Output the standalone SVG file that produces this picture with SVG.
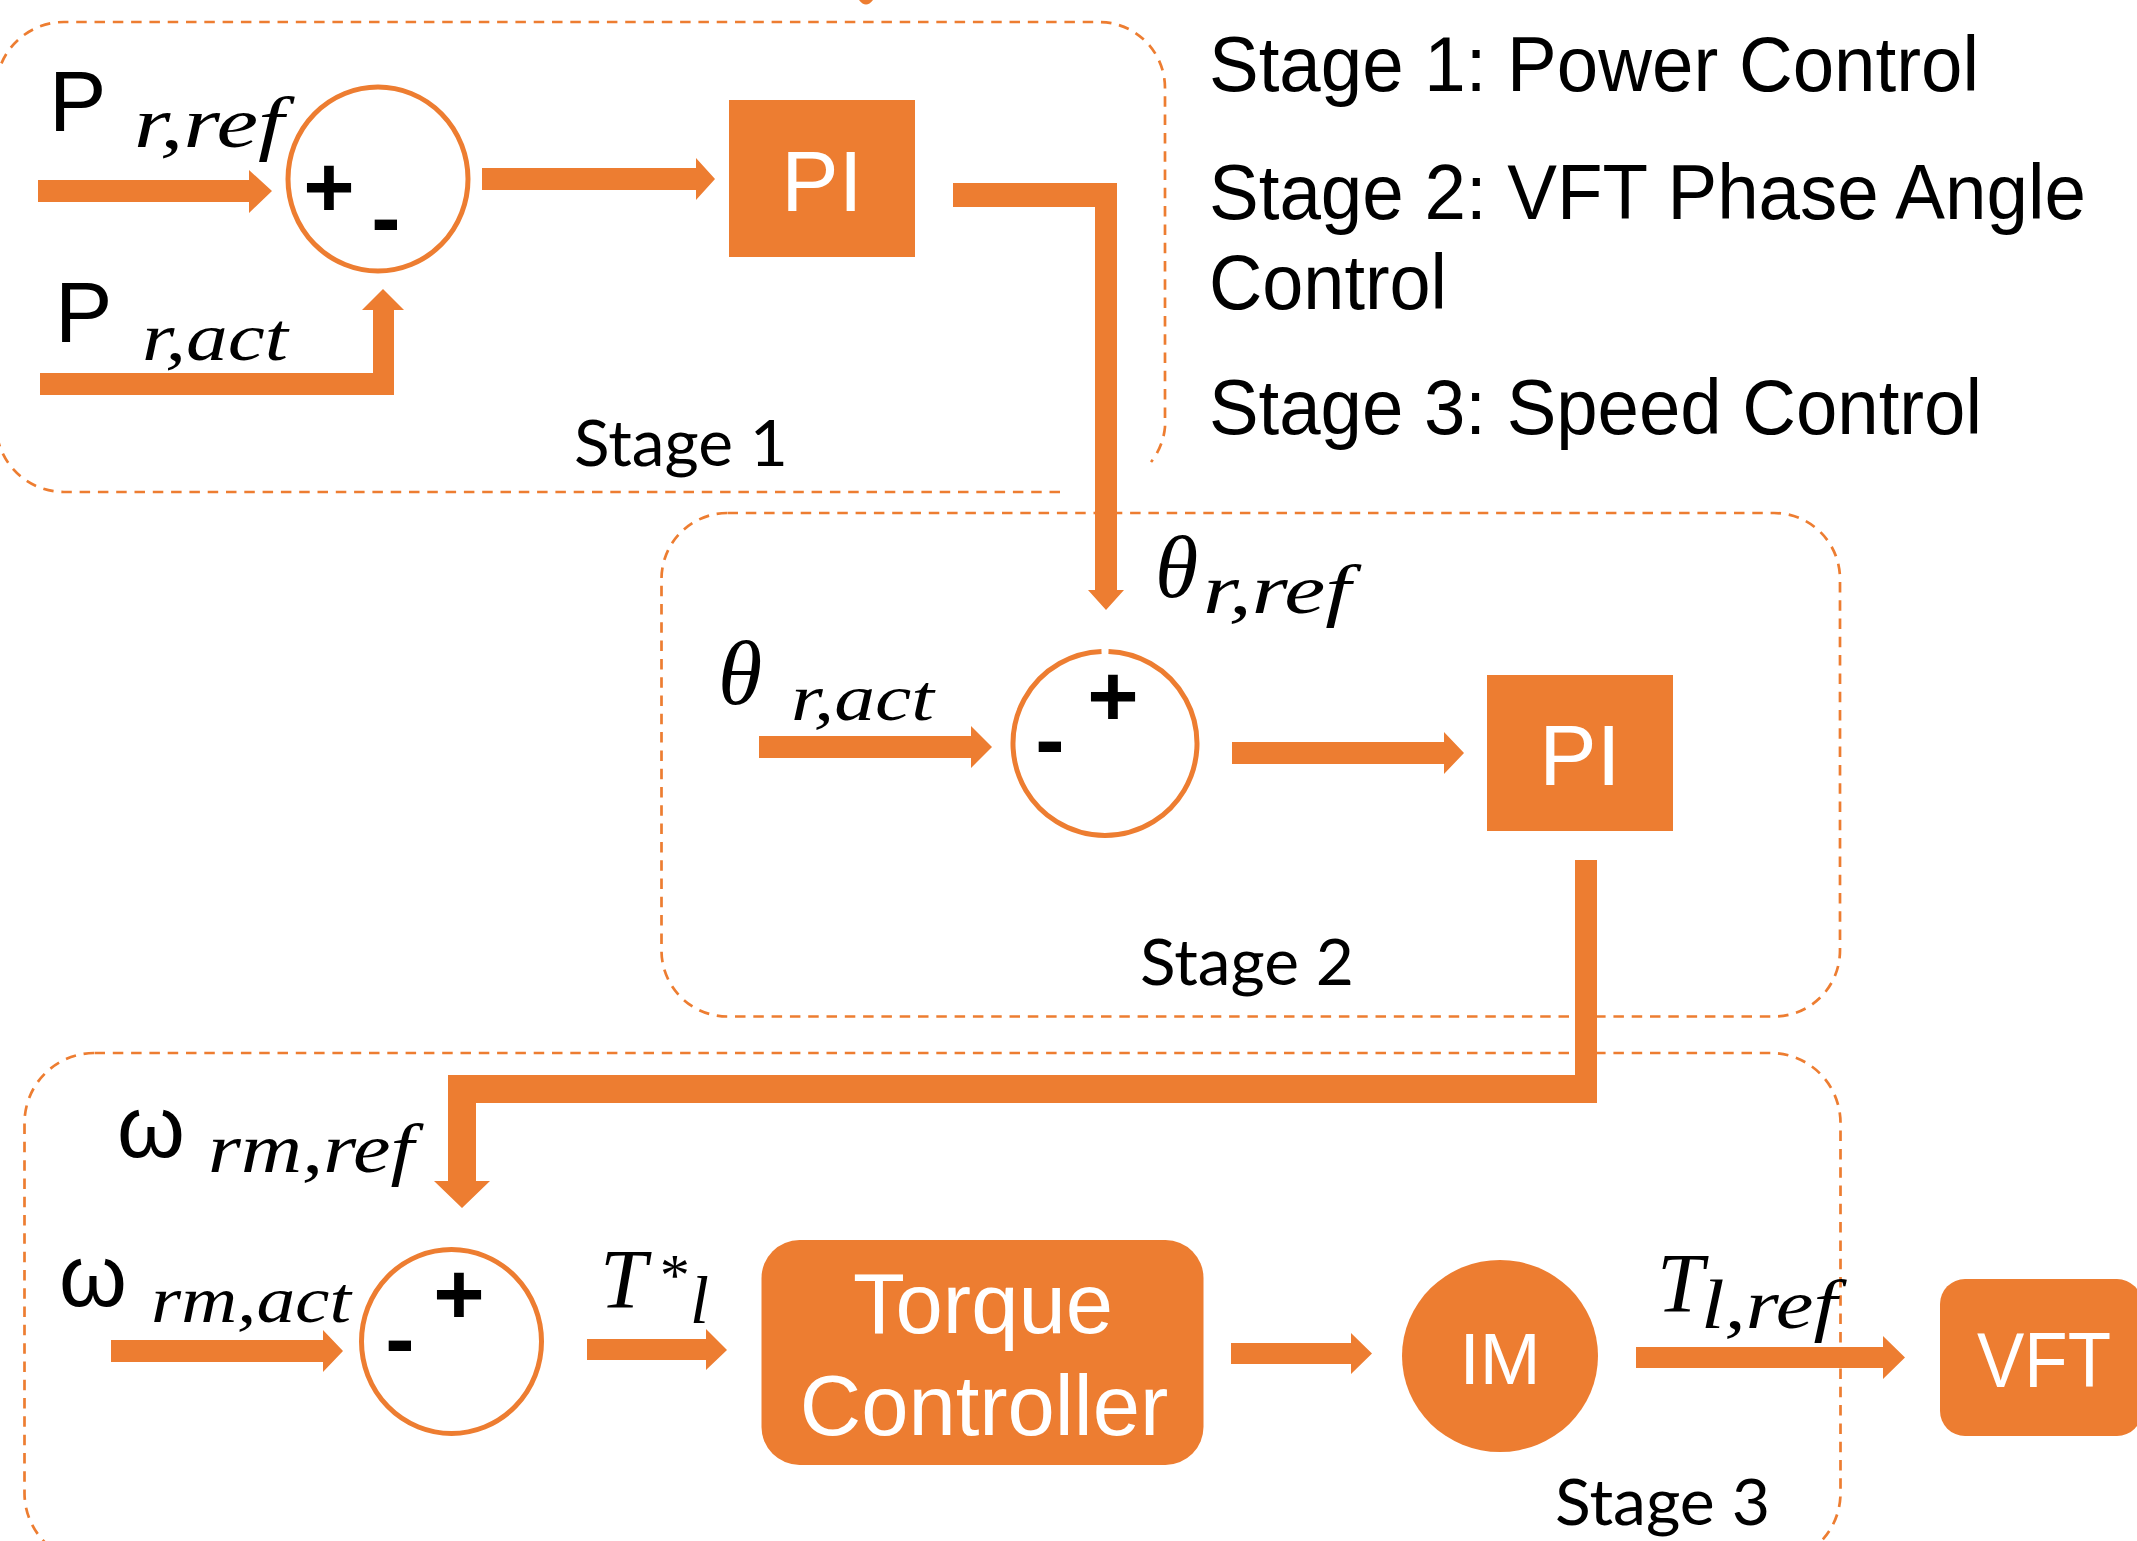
<svg xmlns="http://www.w3.org/2000/svg" width="2137" height="1541" viewBox="0 0 2137 1541">
<style>
.frame{fill:none;stroke:#ED7D31;stroke-width:2.7;stroke-dasharray:10.5 7.8}
.fill{fill:#ED7D31}
.sum{fill:#fff;stroke:#ED7D31;stroke-width:5}
.wt{fill:#fff;font-family:"Liberation Sans",Arial,sans-serif}
.bk{fill:#000;font-family:"Liberation Sans",Arial,sans-serif}
.mi{fill:#000;font-family:"Liberation Serif","Times New Roman",serif;font-style:italic}
.sg{fill:#000;font-family:"Liberation Sans",Arial,sans-serif;font-weight:bold;text-anchor:middle}
.st{fill:#000;font-family:Lato,"Open Sans",sans-serif}
</style>
<rect width="2137" height="1541" fill="#fff"/>
<path class="fill" d="M859 0 Q866 9 873 0 Z"/>
<g id="stage1">
<path class="frame" d="M1060 492 H64 A68 68 0 0 1 -4 424 V90 A68 68 0 0 1 64 22 H1099 A66 66 0 0 1 1165 88 V427 A66 66 0 0 1 1151 462"/>
<text class="st" x="574" y="466" font-size="64" textLength="214" lengthAdjust="spacingAndGlyphs">Stage 1</text>
</g>
<g id="stage2">
<rect class="frame" x="661.5" y="513" width="1178.5" height="503.5" rx="66" ry="66"/>
<text class="st" x="1140" y="985" font-size="64" textLength="214" lengthAdjust="spacingAndGlyphs">Stage 2</text>
</g>
<g id="stage3">
<rect class="frame" x="24.5" y="1053" width="1816" height="510" rx="70" ry="70"/>
<text class="st" x="1555" y="1525" font-size="64" textLength="215" lengthAdjust="spacingAndGlyphs">Stage 3</text>
</g>
<g id="legend">
<text class="bk" x="1209" y="91" font-size="77" textLength="770" lengthAdjust="spacingAndGlyphs">Stage 1: Power Control</text>
<text class="bk" x="1209" y="219" font-size="77" textLength="877" lengthAdjust="spacingAndGlyphs">Stage 2: VFT Phase Angle</text>
<text class="bk" x="1209" y="309" font-size="77" textLength="238" lengthAdjust="spacingAndGlyphs">Control</text>
<text class="bk" x="1209" y="434" font-size="77" textLength="773" lengthAdjust="spacingAndGlyphs">Stage 3: Speed Control</text>
</g>
<g id="connectors">
<polygon class="fill" points="38,180 249,180 249,170 272,191 249,213 249,202 38,202"/>
<polygon class="fill" points="40,373 373,373 373,310 362,310 383,289 404,310 394,310 394,395 40,395"/>
<polygon class="fill" points="482,168 696,168 696,158 715,179 696,200 696,190 482,190"/>
<polygon class="fill" points="953,183 1117,183 1117,590 1124,590 1106,610 1088,590 1095,590 1095,207 953,207"/>
<polygon class="fill" points="759,736 971,736 971,726 992,747 971,768 971,758 759,758"/>
<polygon class="fill" points="1232,742 1444,742 1444,732 1464,753 1444,774 1444,764 1232,764"/>
<polygon class="fill" points="1575,860 1597,860 1597,1103 476,1103 476,1181 490,1181 462,1208 434,1181 448,1181 448,1075 1575,1075"/>
<polygon class="fill" points="111,1340 323,1340 323,1330 343,1351 323,1372 323,1362 111,1362"/>
<polygon class="fill" points="587,1339 706,1339 706,1329 727,1350 706,1370 706,1360 587,1360"/>
<polygon class="fill" points="1231,1343 1351,1343 1351,1333 1372,1353.5 1351,1374 1351,1364 1231,1364"/>
<polygon class="fill" points="1636,1347 1883,1347 1883,1336 1905,1357.5 1883,1379 1883,1368 1636,1368"/>
</g>
<g id="labels">
<text class="bk" x="49" y="131" font-size="86">P</text>
<text class="mi" x="134" y="147" font-size="72" textLength="150" lengthAdjust="spacingAndGlyphs">r,ref</text>
<text class="bk" x="55" y="342" font-size="86">P</text>
<text class="mi" x="142" y="360" font-size="68" textLength="146" lengthAdjust="spacingAndGlyphs">r,act</text>
<text class="mi" x="718" y="704" font-size="90">θ</text>
<text class="mi" x="791" y="720" font-size="66" textLength="143" lengthAdjust="spacingAndGlyphs">r,act</text>
<text class="mi" x="1155" y="597" font-size="88">θ</text>
<text class="mi" x="1203" y="613" font-size="70" textLength="148" lengthAdjust="spacingAndGlyphs">r,ref</text>
<text class="bk" x="117" y="1157" font-size="87">ω</text>
<text class="mi" x="208" y="1172" font-size="70" textLength="206" lengthAdjust="spacingAndGlyphs">rm,ref</text>
<text class="bk" x="59" y="1306" font-size="87">ω</text>
<text class="mi" x="151" y="1322" font-size="66" textLength="200" lengthAdjust="spacingAndGlyphs">rm,act</text>
<text class="mi" x="600" y="1308" font-size="84">T</text>
<text class="mi" x="657" y="1295" font-size="60">*</text>
<text class="mi" x="690" y="1323" font-size="68">l</text>
<text class="mi" x="1657" y="1312" font-size="84">T</text>
<text class="mi" x="1701" y="1328" font-size="70" textLength="136" lengthAdjust="spacingAndGlyphs">l,ref</text>
</g>
<g id="sum1">
<ellipse class="sum" cx="378" cy="179" rx="90" ry="92"/>
<text class="sg" x="329" y="217" font-size="88">+</text>
<text class="sg" x="386" y="247" font-size="88">-</text>
</g>
<g id="pi1">
<rect class="fill" x="729" y="100" width="186" height="157"/>
<text class="wt" x="822" y="211" font-size="86" text-anchor="middle">PI</text>
</g>
<g id="sum2">
<path class="sum" d="M1108.5 651.5 A92 92 0 1 1 1101.5 651.5"/>
<text class="sg" x="1113" y="726" font-size="88">+</text>
<text class="sg" x="1050" y="769" font-size="88">-</text>
</g>
<g id="pi2">
<rect class="fill" x="1487" y="675" width="186" height="156"/>
<text class="wt" x="1580" y="785" font-size="86" text-anchor="middle">PI</text>
</g>
<g id="sum3">
<ellipse class="sum" cx="451.5" cy="1341.5" rx="90" ry="92"/>
<text class="sg" x="459" y="1324" font-size="88">+</text>
<text class="sg" x="400" y="1368" font-size="88">-</text>
</g>
<g id="torque">
<rect class="fill" x="761.5" y="1240" width="442" height="225" rx="38" ry="38"/>
<text class="wt" x="983" y="1333" font-size="85" text-anchor="middle">Torque</text>
<text class="wt" x="984" y="1435" font-size="85" text-anchor="middle">Controller</text>
</g>
<g id="im">
<ellipse class="fill" cx="1500" cy="1356" rx="98" ry="96"/>
<text class="wt" x="1500" y="1384" font-size="73" text-anchor="middle">IM</text>
</g>
<g id="vft">
<rect class="fill" x="1940" y="1279" width="202" height="157" rx="25" ry="25"/>
<text class="wt" x="1977" y="1387" font-size="77" textLength="134" lengthAdjust="spacingAndGlyphs">VFT</text>
</g>
</svg>
